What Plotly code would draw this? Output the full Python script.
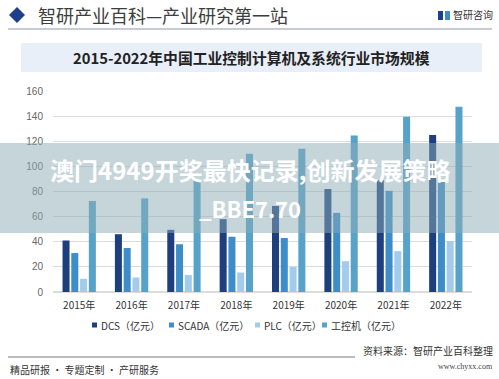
import plotly.graph_objects as go

# ---- data ----
categories = ["2015年", "2016年", "2017年", "2018年", "2019年", "2020年", "2021年", "2022年"]
dcs = [41, 46, 49.5, 58, 68.5, 82, 89, 125]
scada = [31, 35, 38, 44, 43, 63, 80.5, 88]
plc = [10.5, 11.5, 13.5, 15.5, 20, 24.5, 32.5, 40.5]
ipc = [72.5, 74.5, 88.5, 110, 114, 124.5, 139.5, 147.5]
series_names = ["DCS（亿元）", "SCADA（亿元）", "PLC（亿元）", "工控机（亿元）"]
series_values = [dcs, scada, plc, ipc]
series_colors = ["#1e3f7e", "#3c8dc9", "#a3cbeb", "#56a2c8"]
y_ticks = [0, 20, 40, 60, 80, 100, 120, 140, 160]

W, H = 499, 379
L, R, T, B = 53, 27, 91, 87
PW, PH = W - L - R, H - T - B


def X(px):
    return (px - L) / PW


def Y(py):
    return (H - B - py) / PH


CJK = "Noto Sans CJK SC"

fig = go.Figure()
for name, vals, col in zip(series_names, series_values, series_colors):
    fig.add_trace(go.Bar(x=categories, y=vals, name=name, marker_color=col,
                         marker_line_width=0, showlegend=False))

shapes = []
annotations = []

# legend (drawn manually to keep the compact look)
legend_x = [95, 172, 258, 325]
legend_y = 325
for lx, name, col in zip(legend_x, series_names, series_colors):
    shapes.append(dict(type="rect", xref="paper", yref="paper", x0=X(lx - 3), x1=X(lx + 2),
                       y0=Y(legend_y + 2.5), y1=Y(legend_y - 2.5), fillcolor=col, line=dict(width=0)))
    annotations.append(dict(x=X(lx + 4), y=Y(legend_y), xref="paper", yref="paper",
                            xanchor="left", yanchor="middle", text=name, showarrow=False,
                            font=dict(family=CJK, size=10, color="#333333")))

# header diamond
cx, cy, r = 17, 15, 8
shapes.append(dict(type="path", xref="paper", yref="paper",
                   path=f"M {X(cx-r)} {Y(cy)} L {X(cx)} {Y(cy-r)} L {X(cx+r)} {Y(cy)} L {X(cx)} {Y(cy+r)} Z",
                   fillcolor="#1e3f8a", line=dict(width=0)))
annotations.append(dict(x=X(36), y=Y(15), xref="paper", yref="paper", xanchor="left", yanchor="middle",
                        text="智研产业百科—产业研究第一站", showarrow=False,
                        font=dict(family=CJK, size=18, color="#3d3d3d")))
# logo right
shapes.append(dict(type="rect", xref="paper", yref="paper", x0=X(438), x1=X(443), y0=Y(20), y1=Y(11),
                   fillcolor="#1e3f8a", line=dict(width=0)))
shapes.append(dict(type="rect", xref="paper", yref="paper", x0=X(445), x1=X(450), y0=Y(20), y1=Y(11),
                   fillcolor="#3c8dc9", line=dict(width=0)))
annotations.append(dict(x=X(495), y=Y(15), xref="paper", yref="paper", xanchor="right", yanchor="middle",
                        text="智研咨询", showarrow=False,
                        font=dict(family=CJK, size=10, color="#333333")))
# header line
shapes.append(dict(type="line", xref="paper", yref="paper", x0=X(8), x1=X(492), y0=Y(29), y1=Y(29),
                   line=dict(color="#8e99a4", width=1)))
# title box
shapes.append(dict(type="rect", xref="paper", yref="paper", x0=X(21), x1=X(482), y0=Y(72), y1=Y(43),
                   fillcolor="#e9eff8", line=dict(width=0), layer="below"))
annotations.append(dict(x=X(251), y=Y(58), xref="paper", yref="paper", xanchor="center", yanchor="middle",
                        text="<b>2015-2022年中国工业控制计算机及系统行业市场规模</b>", showarrow=False,
                        font=dict(family=CJK, size=14.8, color="#222222")))
# footer
shapes.append(dict(type="line", xref="paper", yref="paper", x0=X(8), x1=X(355), y0=Y(357), y1=Y(357),
                   line=dict(color="#777777", width=1)))
annotations.append(dict(x=X(495), y=Y(350), xref="paper", yref="paper", xanchor="right", yanchor="middle",
                        text="资料来源：智研产业百科整理", showarrow=False,
                        font=dict(family=CJK, size=10, color="#333333")))
annotations.append(dict(x=X(495), y=Y(366), xref="paper", yref="paper", xanchor="right", yanchor="middle",
                        text="www.chyxx.com", showarrow=False,
                        font=dict(family="Liberation Serif", size=8, color="#444444")))
annotations.append(dict(x=X(8), y=Y(369), xref="paper", yref="paper", xanchor="left", yanchor="middle",
                        text="精品研报 · 专题定制 · 产研服务", showarrow=False,
                        font=dict(family=CJK, size=10, color="#333333")))
# overlay banner
shapes.append(dict(type="rect", xref="paper", yref="paper", x0=X(0), x1=X(W), y0=Y(233), y1=Y(143),
                   fillcolor="rgba(140,172,182,0.5)", line=dict(width=0), layer="above"))
annotations.append(dict(x=X(250), y=Y(169), xref="paper", yref="paper", xanchor="center", yanchor="middle",
                        text="<b>澳门4949开奖最快记录,创新发展策略</b>", showarrow=False,
                        font=dict(family=CJK, size=24, color="#ffffff")))
annotations.append(dict(x=X(250), y=Y(208), xref="paper", yref="paper", xanchor="center", yanchor="middle",
                        text="<b>_BBE7.70</b>", showarrow=False,
                        font=dict(family=CJK, size=22, color="#ffffff")))

fig.update_layout(
    width=W, height=H,
    margin=dict(l=L, r=R, t=T, b=B, pad=0, autoexpand=False),
    paper_bgcolor="white", plot_bgcolor="white",
    barmode="group", bargap=0.33, bargroupgap=0.2,
    shapes=shapes, annotations=annotations,
    showlegend=False,
    xaxis=dict(showgrid=False, showline=False, ticks="", ticklabelstandoff=6, automargin=False,
               tickfont=dict(family=CJK, size=10, color="#333333")),
    yaxis=dict(range=[0, 160], tickvals=y_ticks, showgrid=True, gridcolor="#dcdcdc", gridwidth=1,
               zeroline=True, zerolinecolor="#dcdcdc", showline=False, ticks="", ticklabelstandoff=9,
               automargin=False,
               tickfont=dict(family="Liberation Sans", size=10, color="#666666")),
)

fig.write_html("out.html", config={"displayModeBar": False},
               post_script="document.body.style.margin='0';")
